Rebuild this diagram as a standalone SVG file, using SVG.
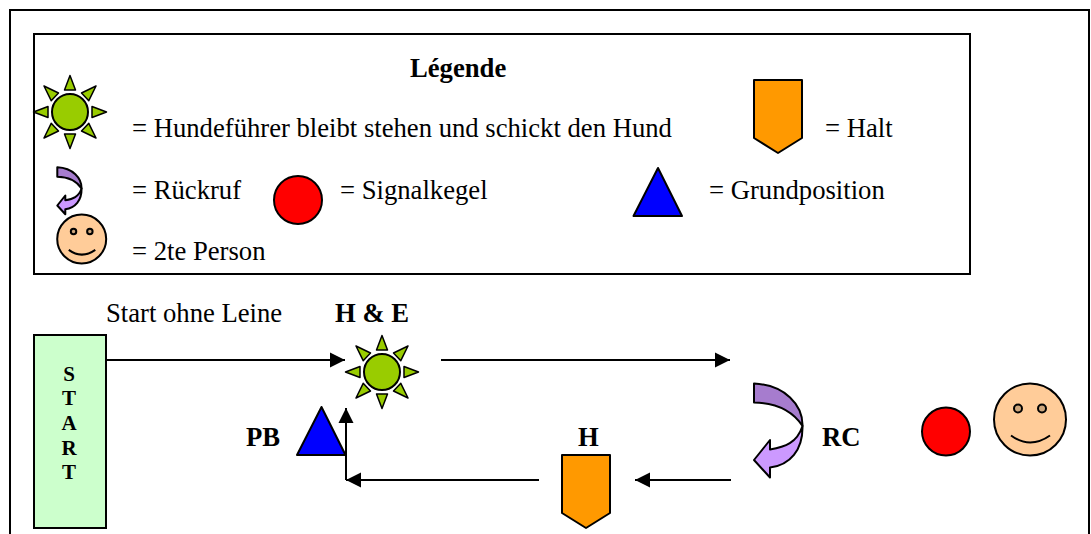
<svg xmlns="http://www.w3.org/2000/svg" width="1091" height="534" viewBox="0 0 1091 534">
<style>
text{font-family:"Liberation Serif","Times New Roman",serif;font-size:26.67px;fill:#000}
.b{font-weight:bold}
.s{font-size:21px;font-weight:bold;text-anchor:middle}
.o{stroke:#000;stroke-width:2;stroke-linejoin:round;vector-effect:non-scaling-stroke}
.r{stroke:#000;stroke-width:1.500;stroke-linejoin:round}
.box{fill:none;stroke:#000;stroke-width:2}
.c{fill:none;stroke:#000;stroke-width:2}
</style>
<defs>
<marker id="ah" markerUnits="userSpaceOnUse" markerWidth="16" markerHeight="16" refX="15" refY="8" orient="auto"><path d="M0 0.5L15 8L0 15.5Z" fill="#000"/></marker>
<g id="sun">
<circle class="o" r="18" fill="#99cc00"/>
<g class="r" fill="#99cc00">
<path d="M0-36.500L-5.500-22H5.500Z"/><path d="M0 36.500L-5.500 22H5.500Z"/><path d="M-36.500 0L-22-5.500V5.500Z"/><path d="M36.500 0L22-5.500V5.500Z"/>
<path d="M26-26L11.500-19L18.800-11.300Z"/><path d="M-26-26L-11.500-19L-18.800-11.300Z"/><path d="M26 26L11.500 19L18.800 11.300Z"/><path d="M-26 26L-11.500 19L-18.800 11.300Z"/>
</g>
</g>
<g id="face">
<circle class="o" r="36" fill="#ffcc99"/>
<circle class="o" cx="-12" cy="-11" r="4" fill="#cda67c"/><circle class="o" cx="12" cy="-11" r="4" fill="#cda67c"/>
<path class="o" d="M-19 16Q0 30 20 16" fill="none"/>
</g>
<g id="turn">
<path class="o" fill="#cc99ff" d="M48.500 43C49 67 36 82 16 84.500L16 94.500L0 77L16 57L16 66.500C31 64 43 60 48.500 43Z"/>
<path class="o" fill="#a67cce" d="M0 0.500C31 2 49 22 48.500 43C40 30 26 20 0 19.500Z"/>
</g>
<path id="halt" class="o" fill="#ff9900" d="M0 0H48V58L24 73L0 58Z"/>
<path id="tri" class="o" fill="#0000ff" d="M24.500 0L48.500 48H0Z"/>
<circle id="red" class="o" r="24" fill="#ff0000"/>
</defs>
<rect id="frame" class="box" x="10" y="10" width="1079" height="540"/>
<g id="legend">
<rect class="box" x="34" y="34" width="936" height="240" fill="#fff"/>
<text class="b" x="410" y="77">Légende</text>
<text x="132" y="137">= Hundeführer bleibt stehen und schickt den Hund</text>
<text x="825" y="137">= Halt</text>
<text x="132" y="199">= Rückruf</text>
<text x="340" y="199">= Signalkegel</text>
<text x="709" y="199">= Grundposition</text>
<text x="132" y="260">= 2te Person</text>
</g>
<g id="legend-sun"><use href="#sun" x="70" y="112"/></g>
<g id="legend-halt"><use href="#halt" x="754" y="80"/></g>
<g id="legend-turn"><use href="#turn" transform="translate(57.300 167) scale(.5)"/></g>
<g id="legend-cone"><use href="#red" x="298" y="200"/></g>
<g id="legend-tri"><use href="#tri" x="633.500" y="168"/></g>
<g id="legend-face"><use href="#face" transform="translate(81.700 239) scale(.68)"/></g>
<g id="connectors">
<path class="c" d="M106 360H345" marker-end="url(#ah)"/>
<path class="c" d="M441 360H730" marker-end="url(#ah)"/>
<path class="c" d="M731 480H635" marker-end="url(#ah)"/>
<path class="c" d="M539 480H346" marker-end="url(#ah)"/>
<path class="c" d="M346 480V408" marker-end="url(#ah)"/>
</g>
<g id="start">
<rect x="34" y="335" width="72" height="193" fill="#ccffcc" stroke="#000" stroke-width="2"/>
<text class="s" x="69" y="381">S</text>
<text class="s" x="69" y="405">T</text>
<text class="s" x="69" y="430">A</text>
<text class="s" x="69" y="455">R</text>
<text class="s" x="69" y="479">T</text>
</g>
<text id="start-label" x="106" y="322">Start ohne Leine</text>
<g id="he"><text class="b" x="335" y="322">H &amp; E</text><use href="#sun" x="382" y="372"/></g>
<g id="pb"><text class="b" x="246" y="446">PB</text><use href="#tri" x="297" y="407"/></g>
<g id="h"><text class="b" x="578" y="446">H</text><use href="#halt" x="562" y="455"/></g>
<g id="rc"><use href="#turn" x="754" y="383"/><text class="b" x="822" y="446">RC</text></g>
<g id="cone"><use href="#red" x="946" y="431.500"/></g>
<g id="person"><use href="#face" x="1030" y="419.500"/></g>
</svg>
